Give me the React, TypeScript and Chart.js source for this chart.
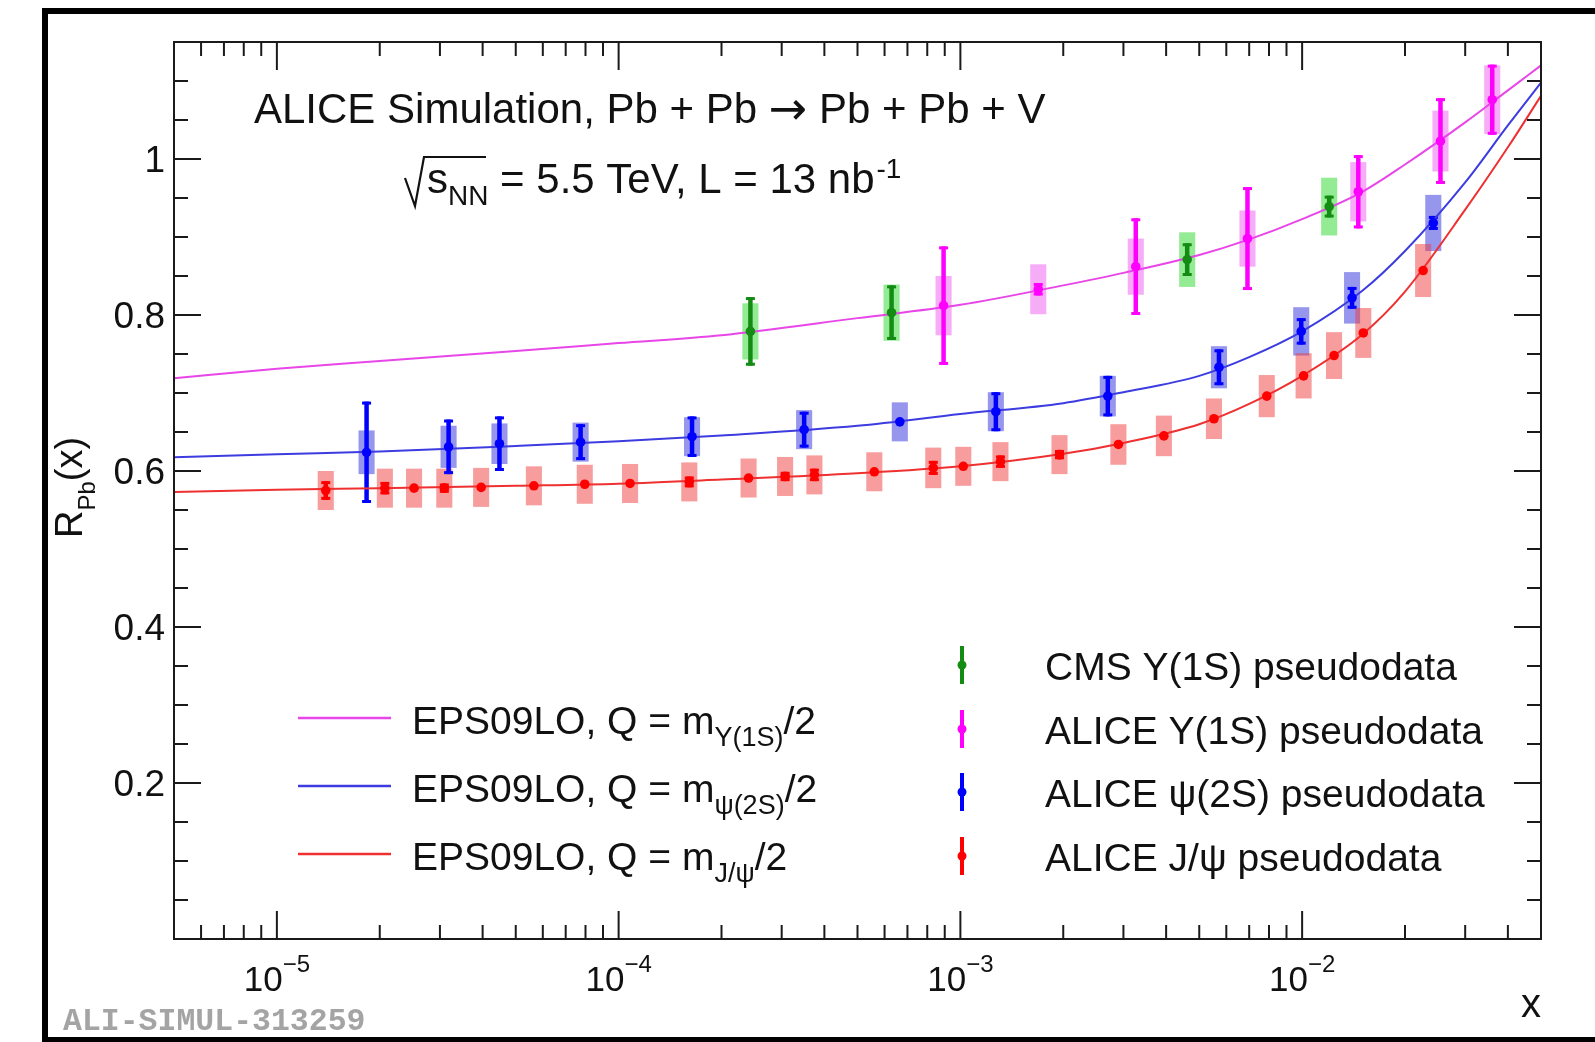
import React, { useEffect, useRef } from "react";
import { Chart, registerables } from "chart.js";

Chart.register(...registerables);

const W = 1595;
const H = 1042;
const FONT = '"Liberation Sans", Arial, Helvetica, sans-serif';
const ARROW_FONT = '"DejaVu Sans", sans-serif';

// ---------- axes ----------
const X_MIN = 5e-6;
const X_MAX = 0.05;
const Y_MIN = 0;
const Y_MAX = 1.15;
const xTickExponents = [-5, -4, -3, -2];
const yTickValues = [0.2, 0.4, 0.6, 0.8, 1.0];
const yTickLabels = ["0.2", "0.4", "0.6", "0.8", "1"];

// ---------- EPS09LO curves ----------
const curveX = [5e-6, 1e-5, 2e-5, 5e-5, 1e-4, 2e-4, 5e-4, 1e-3, 2e-3, 3e-3, 5e-3, 7e-3, 1e-2, 1.5e-2, 2e-2, 3e-2, 4e-2, 5e-2];
const curveUpsilon = [0.719, 0.731, 0.741, 0.754, 0.764, 0.774, 0.796, 0.813, 0.838, 0.854, 0.877, 0.897, 0.923, 0.958, 0.993, 1.047, 1.088, 1.12];
const curvePsi2S = [0.6176, 0.6215, 0.625, 0.632, 0.638, 0.6455, 0.658, 0.673, 0.687, 0.701, 0.722, 0.746, 0.779, 0.831, 0.882, 0.97, 1.043, 1.098];
const curveJpsi = [0.573, 0.576, 0.578, 0.581, 0.5837, 0.589, 0.597, 0.606, 0.622, 0.636, 0.66, 0.686, 0.722, 0.775, 0.83, 0.935, 1.015, 1.081];

// ---------- pseudodata ----------
const cmsUpsX = [2.43e-4, 6.29e-4, 4.61e-3, 1.2e-2];
const cmsUpsY = [0.779, 0.803, 0.871, 0.939];
const cmsUpsStat = [0.044, 0.035, 0.021, 0.014];
const cmsUpsSyst = [0.036, 0.036, 0.035, 0.037];

const aliUpsX = [8.93e-4, 1.69e-3, 3.26e-3, 6.92e-3, 1.46e-2, 2.54e-2, 3.6e-2];
const aliUpsY = [0.812, 0.833, 0.862, 0.898, 0.958, 1.023, 1.076];
const aliUpsStat = [0.076, 0.008, 0.062, 0.066, 0.047, 0.055, 0.045];
const aliUpsSyst = [0.038, 0.032, 0.036, 0.036, 0.038, 0.039, 0.044];

const aliPsi2SX = [1.83e-5, 3.18e-5, 4.48e-5, 7.74e-5, 1.64e-4, 3.49e-4, 6.65e-4, 1.27e-3, 2.7e-3, 5.71e-3, 9.94e-3, 1.4e-2, 2.42e-2];
const aliPsi2SY = [0.624, 0.631, 0.635, 0.637, 0.644, 0.653, 0.663, 0.676, 0.696, 0.733, 0.779, 0.822, 0.918];
const aliPsi2SStat = [0.065, 0.035, 0.035, 0.023, 0.026, 0.023, 0.003, 0.025, 0.026, 0.023, 0.017, 0.014, 0.009];
const aliPsi2SSyst = [0.028, 0.027, 0.026, 0.025, 0.025, 0.025, 0.025, 0.025, 0.026, 0.027, 0.031, 0.033, 0.036];

const aliJpsiX = [1.39e-5, 2.07e-5, 2.52e-5, 3.09e-5, 3.96e-5, 5.65e-5, 7.96e-5, 1.08e-4, 1.61e-4, 2.4e-4, 3.07e-4, 3.74e-4, 5.6e-4, 8.33e-4, 1.02e-3, 1.31e-3, 1.95e-3, 2.9e-3, 3.94e-3, 5.52e-3, 7.88e-3, 1.01e-2, 1.24e-2, 1.51e-2, 2.26e-2];
const aliJpsiY = [0.575, 0.578, 0.578, 0.578, 0.579, 0.581, 0.583, 0.584, 0.586, 0.591, 0.593, 0.595, 0.599, 0.604, 0.606, 0.612, 0.621, 0.634, 0.645, 0.667, 0.696, 0.722, 0.748, 0.777, 0.857];
const aliJpsiStat = [0.012, 0.008, 0.003, 0.006, 0.003, 0.003, 0.004, 0.003, 0.007, 0.004, 0.006, 0.008, 0.004, 0.009, 0.005, 0.008, 0.006, 0.004, 0.004, 0.004, 0.003, 0.004, 0.003, 0.004, 0.003];
const aliJpsiSyst = [0.025, 0.025, 0.025, 0.025, 0.025, 0.025, 0.025, 0.025, 0.025, 0.025, 0.025, 0.025, 0.025, 0.026, 0.025, 0.025, 0.025, 0.026, 0.026, 0.026, 0.027, 0.029, 0.03, 0.032, 0.034];

// ---------- labels ----------
const titleLeft = "ALICE Simulation, Pb + Pb ";
const titleArrow = "\u2192";
const titleRight = " Pb + Pb + V";
const curveLegendSubs = ["\u03A5(1S)", "\u03C8(2S)", "J/\u03C8"];
const dataLegendLabels = ["CMS \u03A5(1S) pseudodata", "ALICE \u03A5(1S) pseudodata", "ALICE \u03C8(2S) pseudodata", "ALICE J/\u03C8 pseudodata"];

const COL = {
  magentaCurve: "rgb(232,70,232)",
  blueCurve: "rgb(60,60,225)",
  redCurve: "rgb(238,48,48)",
  green: "rgb(20,140,20)",
  magenta: "rgb(255,0,255)",
  blue: "rgb(0,0,255)",
  red: "rgb(255,0,0)",
  greenBox: "rgba(40,215,40,0.5)",
  magentaBox: "rgba(235,70,235,0.45)",
  blueBox: "rgba(45,45,220,0.5)",
  redBox: "rgba(240,60,60,0.5)",
};

const SYST_HALF_DEC = 0.0235;
const toPts = (xs: number[], ys: number[]) => xs.map((x, i) => ({ x, y: ys[i] }));

type Seg = { t: string; size: number; dy?: number; family?: string };
function setFont(ctx: CanvasRenderingContext2D, s: Seg) {
  ctx.font = `${s.size}px ${s.family || FONT}`;
}
function drawRich(ctx: CanvasRenderingContext2D, segs: Seg[], x: number, y: number) {
  let cx = x;
  for (const s of segs) {
    setFont(ctx, s);
    ctx.fillText(s.t, cx, y + (s.dy || 0));
    cx += ctx.measureText(s.t).width;
  }
  return cx;
}
function richWidth(ctx: CanvasRenderingContext2D, segs: Seg[]) {
  let w = 0;
  for (const s of segs) {
    setFont(ctx, s);
    w += ctx.measureText(s.t).width;
  }
  return w;
}
function line(ctx: CanvasRenderingContext2D, x0: number, y0: number, x1: number, y1: number) {
  ctx.beginPath();
  ctx.moveTo(x0, y0);
  ctx.lineTo(x1, y1);
  ctx.stroke();
}

const rootPlugin = {
  id: "rootStyle",
  beforeDraw(chart: any) {
    const ctx = chart.ctx as CanvasRenderingContext2D;
    ctx.save();
    ctx.fillStyle = "#fff";
    ctx.fillRect(0, 0, W, H);
    ctx.restore();
  },
  beforeDatasetsDraw(chart: any) {
    const ctx = chart.ctx as CanvasRenderingContext2D;
    const xs = chart.scales.x;
    const ys = chart.scales.y;
    const a = chart.chartArea;
    ctx.save();
    ctx.beginPath();
    ctx.rect(a.left, a.top, a.right - a.left, a.bottom - a.top);
    ctx.clip();
    chart.data.datasets.forEach((ds: any) => {
      if (!ds.syst) return;
      ctx.fillStyle = ds.boxColor;
      ds.data.forEach((p: any, i: number) => {
        const x0 = xs.getPixelForValue(p.x * Math.pow(10, -SYST_HALF_DEC));
        const x1 = xs.getPixelForValue(p.x * Math.pow(10, SYST_HALF_DEC));
        const y0 = ys.getPixelForValue(p.y + ds.syst[i]);
        const y1 = ys.getPixelForValue(p.y - ds.syst[i]);
        ctx.fillRect(x0, y0, x1 - x0, y1 - y0);
      });
    });
    chart.data.datasets.forEach((ds: any) => {
      if (!ds.stat) return;
      ctx.strokeStyle = ds.backgroundColor;
      ds.data.forEach((p: any, i: number) => {
        const px = xs.getPixelForValue(p.x);
        const y0 = ys.getPixelForValue(p.y + ds.stat[i]);
        const y1 = ys.getPixelForValue(p.y - ds.stat[i]);
        if (y1 - y0 < 8) return;
        ctx.lineWidth = 4.5;
        line(ctx, px, y0, px, y1);
        ctx.lineWidth = 3;
        line(ctx, px - 4.5, y0 + 1.5, px + 4.5, y0 + 1.5);
        line(ctx, px - 4.5, y1 - 1.5, px + 4.5, y1 - 1.5);
      });
    });
    ctx.restore();
  },
  afterDraw(chart: any) {
    const ctx = chart.ctx as CanvasRenderingContext2D;
    const xs = chart.scales.x;
    const ys = chart.scales.y;
    const { left, right, top, bottom } = chart.chartArea;
    ctx.save();

    // outer frame
    ctx.fillStyle = "#000";
    ctx.fillRect(42, 8, 6, H - 8);
    ctx.fillRect(42, 8, W - 42, 6);
    ctx.fillRect(42, H - 5, W - 42, 5);

    // plot frame
    ctx.strokeStyle = "#1a1a1a";
    ctx.lineWidth = 2;
    ctx.strokeRect(left, top, right - left, bottom - top);

    // x ticks
    for (let e = -6; e <= -2; e++) {
      for (let m = 1; m <= 9; m++) {
        const v = m * Math.pow(10, e);
        if (v <= X_MIN * 1.001 || v >= X_MAX * 0.999) continue;
        const px = xs.getPixelForValue(v);
        const len = m === 1 ? 28 : 14;
        line(ctx, px, bottom, px, bottom - len);
        line(ctx, px, top, px, top + len);
      }
    }
    // y ticks
    for (let k = 1; k * 0.05 < Y_MAX - 0.001; k++) {
      const py = ys.getPixelForValue(k * 0.05);
      const len = k % 4 === 0 ? 27 : 14;
      line(ctx, left, py, left + len, py);
      line(ctx, right, py, right - len, py);
    }

    ctx.fillStyle = "#111";
    ctx.textBaseline = "alphabetic";
    // y tick labels
    ctx.textAlign = "right";
    ctx.font = `37px ${FONT}`;
    yTickValues.forEach((v, i) => {
      ctx.fillText(yTickLabels[i], 165, ys.getPixelForValue(v) + 13);
    });
    // x tick labels
    ctx.textAlign = "left";
    xTickExponents.forEach((e) => {
      const segs: Seg[] = [
        { t: "10", size: 35 },
        { t: "\u2212" + Math.abs(e), size: 24, dy: -19 },
      ];
      const w = richWidth(ctx, segs);
      const px = xs.getPixelForValue(Math.pow(10, e));
      drawRich(ctx, segs, px - w / 2, 991);
    });
    // x axis title
    ctx.font = `40px ${FONT}`;
    ctx.textAlign = "right";
    ctx.fillText("x", right, 1017);
    ctx.textAlign = "left";

    // y axis title
    ctx.save();
    ctx.translate(82, 538);
    ctx.rotate(-Math.PI / 2);
    drawRich(ctx, [
      { t: "R", size: 38 },
      { t: "Pb", size: 24, dy: 13 },
      { t: "(x)", size: 38 },
    ], 0, 0);
    ctx.restore();

    // header text
    drawRich(ctx, [
      { t: titleLeft, size: 42 },
      { t: titleArrow, size: 46, family: ARROW_FONT, dy: 1 },
      { t: titleRight, size: 42 },
    ], 254, 123);
    // sqrt(s_NN)
    ctx.strokeStyle = "#111";
    ctx.lineWidth = 2.2;
    ctx.beginPath();
    ctx.moveTo(405, 178);
    ctx.lineTo(415, 206);
    ctx.lineTo(424, 157);
    ctx.lineTo(486, 157);
    ctx.stroke();
    let cx = drawRich(ctx, [{ t: "s", size: 42 }, { t: "NN", size: 28, dy: 12 }], 427, 193);
    cx = drawRich(ctx, [{ t: " = 5.5 TeV, L = 13 nb", size: 42 }], Math.max(cx, 486), 193);
    drawRich(ctx, [{ t: "-1", size: 28, dy: -15 }], cx + 2, 193);

    // curve legend
    const curveCols = [COL.magentaCurve, COL.blueCurve, COL.redCurve];
    const curveBase = [734, 802, 870];
    curveCols.forEach((c, i) => {
      ctx.strokeStyle = c;
      ctx.lineWidth = 2.5;
      line(ctx, 298, curveBase[i] - 16, 391, curveBase[i] - 16);
      ctx.fillStyle = "#111";
      drawRich(ctx, [
        { t: "EPS09LO, Q = m", size: 39 },
        { t: curveLegendSubs[i], size: 27, dy: 12 },
        { t: "/2", size: 39 },
      ], 412, curveBase[i]);
    });

    // data legend
    const dataCols = [COL.green, COL.magenta, COL.blue, COL.red];
    const dataBase = [680, 744, 807, 871];
    dataCols.forEach((c, i) => {
      const cy = dataBase[i] - 15;
      ctx.strokeStyle = c;
      ctx.fillStyle = c;
      ctx.lineWidth = 4;
      line(ctx, 962, cy - 19, 962, cy + 19);
      ctx.beginPath();
      ctx.arc(962, cy, 4.5, 0, Math.PI * 2);
      ctx.fill();
      ctx.fillStyle = "#111";
      ctx.font = `39px ${FONT}`;
      ctx.fillText(dataLegendLabels[i], 1045, dataBase[i]);
    });

    // watermark
    ctx.fillStyle = "#a4a4a4";
    ctx.font = `bold 31.5px "Liberation Mono", "Courier New", monospace`;
    ctx.fillText("ALI-SIMUL-313259", 63, 1030);

    ctx.restore();
  },
};

export default function App() {
  const ref = useRef<HTMLCanvasElement | null>(null);
  useEffect(() => {
    if (!ref.current) return;
    const pointDs = (label: string, xs: number[], ys: number[], stat: number[], syst: number[], color: string, box: string) => ({
      type: "scatter",
      label,
      data: toPts(xs, ys),
      stat,
      syst,
      boxColor: box,
      backgroundColor: color,
      borderColor: color,
      borderWidth: 0,
      pointRadius: 4.8,
      pointStyle: "circle",
      showLine: false,
      order: 0,
    });
    const curveDs = (label: string, ys: number[], color: string) => ({
      type: "line",
      label,
      data: toPts(curveX, ys),
      borderColor: color,
      backgroundColor: color,
      borderWidth: 2,
      pointRadius: 0,
      fill: false,
      cubicInterpolationMode: "monotone",
      order: 1,
    });
    const chart = new Chart(ref.current, {
      type: "scatter",
      data: {
        datasets: [
          pointDs("CMS Upsilon(1S) pseudodata", cmsUpsX, cmsUpsY, cmsUpsStat, cmsUpsSyst, COL.green, COL.greenBox),
          pointDs("ALICE Upsilon(1S) pseudodata", aliUpsX, aliUpsY, aliUpsStat, aliUpsSyst, COL.magenta, COL.magentaBox),
          pointDs("ALICE psi(2S) pseudodata", aliPsi2SX, aliPsi2SY, aliPsi2SStat, aliPsi2SSyst, COL.blue, COL.blueBox),
          pointDs("ALICE J/psi pseudodata", aliJpsiX, aliJpsiY, aliJpsiStat, aliJpsiSyst, COL.red, COL.redBox),
          curveDs("EPS09LO Upsilon(1S)", curveUpsilon, COL.magentaCurve),
          curveDs("EPS09LO psi(2S)", curvePsi2S, COL.blueCurve),
          curveDs("EPS09LO J/psi", curveJpsi, COL.redCurve),
        ] as any,
      },
      options: {
        responsive: false,
        animation: false,
        devicePixelRatio: 1,
        events: [],
        layout: { padding: { left: 174, right: 54, top: 42, bottom: 103 }, autoPadding: false } as any,
        plugins: {
          legend: { display: false },
          tooltip: { enabled: false },
          title: { display: false },
        },
        scales: {
          x: { type: "logarithmic", min: X_MIN, max: X_MAX, display: false },
          y: { type: "linear", min: Y_MIN, max: Y_MAX, display: false },
        },
      },
      plugins: [rootPlugin as any],
    });
    return () => chart.destroy();
  }, []);
  return (
    <div style={{ position: "fixed", left: 0, top: 0, width: W, height: H, background: "#fff" }}>
      <canvas ref={ref} width={W} height={H} style={{ display: "block", width: W, height: H }} />
    </div>
  );
}
